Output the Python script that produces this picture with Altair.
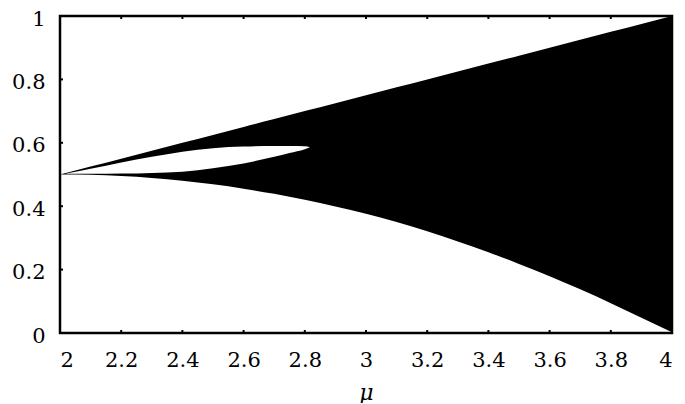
import altair as alt
import pandas as pd

# Outer attractor envelope
mu = [2.0, 2.1, 2.2, 2.3, 2.4, 2.5, 2.6, 2.7, 2.8, 2.9, 3.0,
      3.1, 3.2, 3.3, 3.4, 3.5, 3.6, 3.7, 3.8, 3.9, 4.0]
upper = [0.5, 0.525, 0.55, 0.575, 0.6, 0.625, 0.65, 0.675, 0.7, 0.725, 0.75,
         0.775, 0.8, 0.825, 0.85, 0.875, 0.9, 0.925, 0.95, 0.975, 1.0]
lower = [0.5, 0.499, 0.495, 0.489, 0.48, 0.469, 0.455, 0.439, 0.42, 0.399, 0.376,
         0.35, 0.321, 0.289, 0.255, 0.218, 0.179, 0.138, 0.094, 0.048, 0.002]

# White gap inside the band (two-branch region)
hole_mu = [2.02, 2.1, 2.2, 2.3, 2.4, 2.5, 2.6, 2.7, 2.75, 2.8, 2.817]
hole_top = [0.503, 0.518, 0.538, 0.556, 0.572, 0.583, 0.588, 0.59, 0.59, 0.589, 0.586]
hole_bottom = [0.502, 0.502, 0.503, 0.505, 0.509, 0.52, 0.535, 0.556, 0.568, 0.58, 0.586]

x_ticks = [2.0, 2.2, 2.4, 2.6, 2.8, 3.0, 3.2, 3.4, 3.6, 3.8, 4.0]
y_ticks = [0.0, 0.2, 0.4, 0.6, 0.8, 1.0]

W, H = 612, 317

band = pd.DataFrame({"mu": mu, "upper": upper, "lower": lower})
hole = pd.DataFrame({"mu": hole_mu, "lower": hole_bottom, "upper": hole_top})
xt = pd.DataFrame({"mu": x_ticks})
yt = pd.DataFrame({"lower": y_ticks})

xs = alt.Scale(domain=[2, 4], nice=False, zero=False)
ys = alt.Scale(domain=[0, 1], nice=False, zero=False)

xaxis = alt.Axis(values=x_ticks, format="~g", title="μ", labelPadding=16,
                 titleFont="DejaVu Serif", titleFontStyle="italic",
                 titleFontWeight="normal", titleFontSize=22, titlePadding=12,
                 titleColor="black")
yaxis = alt.Axis(values=y_ticks, format="~g", title=None, labelPadding=15,
                 labelOffset=3)

X = alt.X("mu:Q", scale=xs, axis=xaxis, title="μ")
Y = alt.Y("lower:Q", scale=ys, axis=yaxis, title=None)

base_band = alt.Chart(band).mark_area(color="black", opacity=1, interpolate="monotone").encode(
    x=X, y=Y, y2="upper:Q",
)

gap = alt.Chart(hole).mark_area(color="white", opacity=1, interpolate="monotone").encode(
    x=X, y=Y, y2="upper:Q",
)

tick_style = dict(color="black", strokeWidth=2)
top_ticks = alt.Chart(xt).mark_rule(**tick_style).encode(
    x=X, y=alt.value(0), y2=alt.value(3))
bottom_ticks = alt.Chart(xt).mark_rule(**tick_style).encode(
    x=X, y=alt.value(H - 3), y2=alt.value(H))
left_ticks = alt.Chart(yt).mark_rule(**tick_style).encode(
    y=Y, x=alt.value(0), x2=alt.value(3))
right_ticks = alt.Chart(yt).mark_rule(**tick_style).encode(
    y=Y, x=alt.value(W - 3), x2=alt.value(W))

chart = alt.layer(base_band, gap, top_ticks, bottom_ticks, left_ticks, right_ticks).properties(
    width=W, height=H,
    autosize=alt.AutoSizeParams(type="none"),
    padding={"left": 52, "top": 8, "right": 5, "bottom": 70},
).configure_view(
    stroke="black", strokeWidth=2.5
).configure_axis(
    grid=False, domain=False, ticks=False,
    labelFont="DejaVu Serif", labelFontSize=21, labelColor="black",
)

chart.save("out.html", embed_options={"renderer": "svg", "actions": False})
